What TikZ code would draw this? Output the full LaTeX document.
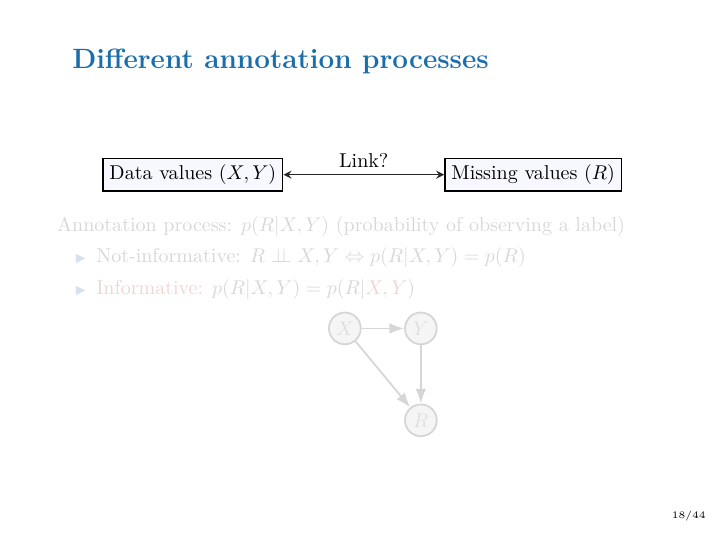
\documentclass[tikz,border=0pt]{standalone}
\usepackage{amsmath, amssymb, amsfonts}
\usepackage{tikz}
\usetikzlibrary{shapes.geometric, arrows, arrows.meta, positioning}

\definecolor{titleblue}{RGB}{28,110,170}
\definecolor{fadegray}{RGB}{215,215,215}
\definecolor{fadered}{RGB}{240,212,212}
\definecolor{fadeblue}{RGB}{214,226,236}
\definecolor{fadeline}{RGB}{214,214,214}
\definecolor{fadefill}{RGB}{245,245,245}
\newcommand{\indepsym}{\perp\!\!\!\perp}

\begin{document}
\begin{tikzpicture}[
    font=\fontsize{10.05}{12.5}\selectfont,
    valuebox/.style={rectangle, draw=black, fill=blue!3, thick, inner sep=3.2pt, minimum height=0.55cm},
    varnode/.style={circle, draw=fadeline, fill=fadefill, line width=0.9pt, minimum size=0.56cm, text=fadegray!80, inner sep=0pt},
    line/.style={anchor=base west, inner sep=0pt, text=fadegray},
    bullet/.style={anchor=base, inner sep=0pt, text=fadeblue, font=\scriptsize},
    arrow/.style={line width=0.9pt, -{Latex[length=2.6mm, width=1.9mm]}, color=fadeline},
    link/.style={thick, <->, >=stealth, color=black!85}
]
\useasboundingbox (0,0) rectangle (12.8,9.6);

\node[anchor=base west, inner sep=0pt, font=\fontsize{14.0}{17}\selectfont\bfseries, text=titleblue] (title) at (1.27, 8.4) {Different annotation processes};

\node[valuebox] (data) at (3.4, 6.52) {Data values $(X,Y)$};
\node[valuebox] (miss) at (9.4, 6.52) {Missing values $(R)$};
\draw[link] (data.east) -- (miss.west) node[midway, above, text=black] {Link?};

\node[line] (annot) at (1.0, 5.51) {Annotation process: $p(R|X,Y)$ (probability of observing a label)};
\node[line] (noninf) at (1.69, 4.98) {Not-informative: $R \indepsym X,Y \Leftrightarrow p(R|X,Y) = p(R)$};
\node[line] (inf) at (1.69, 4.40) {\textcolor{fadered}{Informative:} $p(R|X,Y) = p(R|\textcolor{fadered}{X,Y})$};
\node[bullet] (b1) at ([xshift=-0.27cm]noninf.base west) {$\blacktriangleright$};
\node[bullet] (b2) at ([xshift=-0.27cm]inf.base west) {$\blacktriangleright$};

\node[varnode] (X) at (6.08, 3.81) {$X$};
\node[varnode] (Y) at (7.42, 3.81) {$Y$};
\node[varnode] (R) at (7.42, 2.19) {$R$};
\draw[arrow] (X) -- (Y);
\draw[arrow] (X) -- (R);
\draw[arrow] (Y) -- (R);

\node[anchor=base east, inner sep=0pt, font=\fontsize{5}{6}\selectfont] (page) at (12.45, 0.45) {18/44};

\end{tikzpicture}
\end{document}
